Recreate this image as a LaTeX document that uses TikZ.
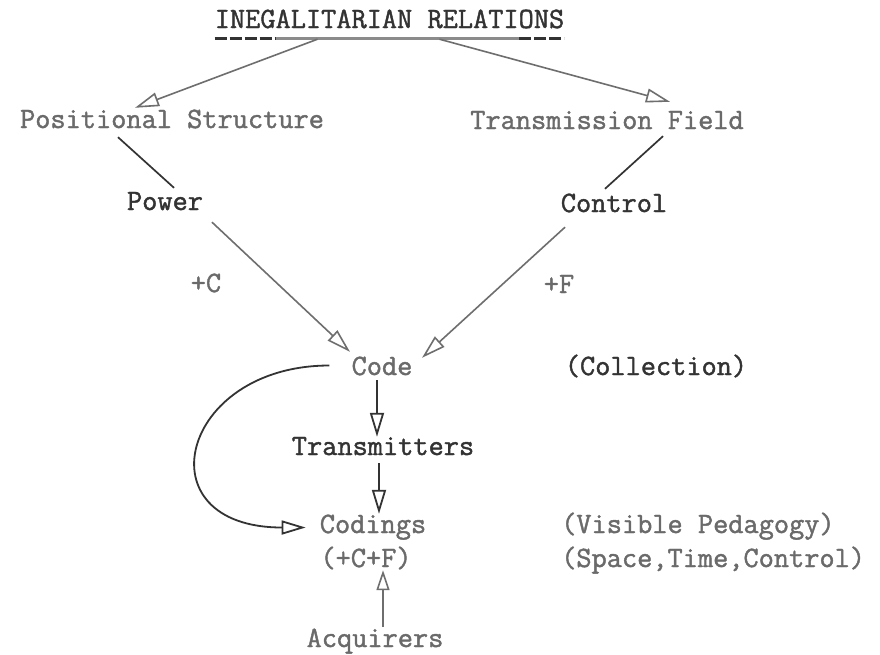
\documentclass[tikz,border=0pt]{standalone}
\usepackage{fontspec}
\usetikzlibrary{arrows.meta}

\newfontfamily\typewriter[FakeBold=1.4]{Latin Modern Mono}

\definecolor{inkdark}{HTML}{333333}
\definecolor{inkgrey}{HTML}{6A6A6A}
\definecolor{linegrey}{HTML}{6E6E6E}

\tikzset{
  lbl/.style={inner sep=0pt, anchor=base, text height=19pt, text depth=0pt,
              font=\typewriter\fontsize{29.5}{34}\selectfont},
  darktext/.style={lbl, text=inkdark},
  greytext/.style={lbl, text=inkgrey},
  openhead/.style={-{Triangle[open, length=24pt, width=14pt]}},
  greyarrow/.style={openhead, draw=linegrey, line width=1.6pt},
  darkarrow/.style={openhead, draw=inkdark, line width=1.8pt},
  plainlink/.style={draw=inkdark, line width=1.7pt},
}

\begin{document}
\begin{tikzpicture}[x=1pt, y=-1pt]
  \useasboundingbox[fill=white] (0,0) rectangle (880,654);

  % headings and labels
  \node[darktext] (title) at (389.5,28) {INEGALITARIAN RELATIONS};
  \node[greytext] (ps) at (172,128) {Positional Structure};
  \node[greytext] (tf) at (607,129) {Transmission Field};
  \node[darktext] (power) at (165,210) {Power};
  \node[darktext] (control) at (614,212) {Control};
  \node[greytext] (plusc) at (206,292) {+C};
  \node[greytext] (plusf) at (559,293) {+F};
  \node[greytext] (code) at (382,375) {Code};
  \node[darktext] (collection) at (656,375) {(Collection)};
  \node[darktext] (trans) at (383,455) {Transmitters};
  \node[greytext] (codings) at (373,533) {Codings};
  \node[greytext] (cf) at (366,567) {(+C+F)};
  \node[greytext] (acq) at (375,647) {Acquirers};
  \node[greytext, anchor=base west] (visible) at (561,533) {(Visible Pedagogy)};
  \node[greytext, anchor=base west] (space) at (561,567) {(Space,Time,Control)};

  % underline of the heading: typed dashes at the ends, grey rule between
  \draw[inkdark, line width=2.6pt, dash pattern=on 12pt off 3pt]
    ([yshift=-10pt]title.south west) -- ([xshift=61pt,yshift=-10pt]title.south west);
  \draw[inkdark, line width=2.6pt, dash pattern=on 12pt off 3pt]
    ([xshift=-45pt,yshift=-10pt]title.south east) -- ([yshift=-10pt]title.south east);
  \draw[linegrey!80, line width=2.6pt]
    ([xshift=61pt,yshift=-10pt]title.south west) -- ([xshift=-45pt,yshift=-10pt]title.south east);

  % from the heading down to the two structures
  \draw[greyarrow] ([xshift=-72pt,yshift=-11pt]title.south) -- ([xshift=-37pt,yshift=1pt]ps.north);
  \draw[greyarrow] ([xshift=50pt,yshift=-11pt]title.south) -- ([xshift=63pt,yshift=8pt]tf.north);

  % structures to power and control
  \draw[plainlink] ([xshift=-54pt,yshift=-9pt]ps.south) -- ([xshift=9pt,yshift=3pt]power.north);
  \draw[plainlink] ([xshift=56pt,yshift=-7pt]tf.south) -- ([xshift=-9pt,yshift=4pt]control.north);

  % power and control into the code
  \draw[greyarrow] ([xshift=47pt,yshift=-12pt]power.south) -- ([xshift=-32pt,yshift=4pt]code.north);
  \draw[greyarrow] ([xshift=-49pt,yshift=-15pt]control.south) -- ([xshift=40pt,yshift=-2pt]code.north);

  % code down through transmitters to codings
  \draw[darkarrow] ([xshift=-5pt,yshift=-5pt]code.south) -- ([xshift=-6pt,yshift=-1pt]trans.north);
  \draw[darkarrow] ([xshift=-4pt,yshift=-8pt]trans.south) -- ([xshift=6pt]codings.north);

  % direct loop from code to codings
  \draw[darkarrow] ([xshift=-22pt]code.west)
    .. controls +(-150,0) and +(-165,0) .. ([xshift=-14pt,yshift=-4pt]codings.west);

  % acquirers up to codings
  \draw[greyarrow, -{Triangle[open, length=20pt, width=13pt]}]
    ([xshift=8pt,yshift=1pt]acq.north) -- ([xshift=17pt,yshift=-3pt]cf.south);
\end{tikzpicture}
\end{document}
